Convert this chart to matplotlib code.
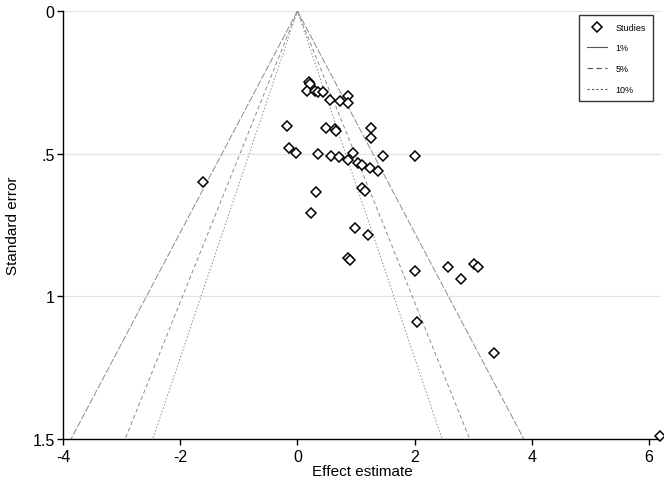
import numpy as np
import matplotlib
matplotlib.use("Agg")
import matplotlib.pyplot as plt
from matplotlib.lines import Line2D
from matplotlib import font_manager

plt.rcParams['font.family'] = ['Liberation Sans', 'DejaVu Sans']
_names = {f.name for f in font_manager.fontManager.ttflist}
label_family = ['Liberation Sans Narrow', 'Liberation Sans'] if 'Liberation Sans Narrow' in _names else ['Liberation Sans']

# Study data: effect estimate and standard error
effect = [0.20, 0.21, 0.16, 0.30, 0.355, 0.43, 0.555, 0.725, 0.87, 0.87,
          -0.18, 0.49, 0.64, 0.665, 1.25, 1.25, -0.15, -0.02, 0.345, 0.57,
          0.71, 0.94, 0.86, 1.46, 2.005, 1.04, 1.095, 1.24, 1.37, -1.61,
          0.32, 1.105, 1.15, 0.225, 0.98, 1.20, 0.87, 0.89, 2.005, 2.045,
          2.57, 2.785, 3.02, 3.09, 3.35, 6.19]
std_err = [0.250, 0.255, 0.279, 0.279, 0.284, 0.284, 0.312, 0.317, 0.297, 0.322,
           0.404, 0.410, 0.414, 0.421, 0.410, 0.445, 0.480, 0.497, 0.502, 0.507,
           0.512, 0.497, 0.521, 0.507, 0.507, 0.534, 0.541, 0.550, 0.560, 0.599,
           0.633, 0.620, 0.630, 0.707, 0.761, 0.784, 0.866, 0.873, 0.910, 1.091,
           0.896, 0.940, 0.886, 0.897, 1.199, 1.490]

# Significance contours (two-sided z values)
contour_labels = ['1%', '5%', '10%']
contour_z = [2.576, 1.96, 1.645]
contour_styles = ['-', (0, (5, 3)), (0, (2, 2))]
plot_styles = [(0, (7, 2)), (0, (4, 3)), (0, (1.5, 2))]

x_ticks = [-4, -2, 0, 2, 4, 6]
y_ticks = [0, 0.5, 1, 1.5]
y_ticklabels = ['0', '.5', '1', '1.5']

fig = plt.figure(figsize=(6.64, 4.85), dpi=100)
ax = fig.add_axes([0.095, 0.0928, 0.900, 0.8825])

for yv in [0, 0.5, 1]:
    ax.axhline(yv, color='#e3e3e3', lw=0.9, zorder=0)

se_line = np.array([0, 1.5])
for z, ls in zip(contour_z, plot_styles):
    for sign in (-1, 1):
        ax.plot(sign * z * se_line, se_line, color='#8c8c8c', lw=0.7, ls=ls, zorder=1)

ax.plot(effect, std_err, linestyle='none', marker='D', markersize=5,
        markerfacecolor='white', markeredgecolor='black', markeredgewidth=1.1,
        zorder=3, clip_on=False)

ax.set_xlim(-4, 6.2)
ax.set_ylim(1.5, 0)
ax.set_xticks(x_ticks)
ax.set_xticklabels([str(t) for t in x_ticks])
ax.set_yticks(y_ticks)
ax.set_yticklabels(y_ticklabels)
ax.tick_params(direction='out', length=4, width=1, labelsize=11.5, colors='black')
ax.tick_params(axis='y', pad=2)
for s in ['top', 'right']:
    ax.spines[s].set_visible(False)
for s in ['left', 'bottom']:
    ax.spines[s].set_linewidth(1)

ax.set_xlabel('Effect estimate', fontsize=11, family=label_family, labelpad=0)
ax.set_ylabel('Standard error', fontsize=11, family=label_family, labelpad=9)

handles = [Line2D([], [], ls='none', marker='D', markersize=5, markerfacecolor='white',
                  markeredgecolor='black', markeredgewidth=1.1)]
for lab, ls in zip(contour_labels, contour_styles):
    handles.append(Line2D([], [], color='#555555', lw=0.8, ls=ls))
leg = ax.legend(handles, ['Studies'] + contour_labels, loc='upper right',
                bbox_to_anchor=(0.995, 1.0), fontsize=6.5, frameon=True,
                fancybox=False, edgecolor='black', handlelength=2.2,
                labelspacing=1.3, borderpad=0.8, handletextpad=1.0)
leg.get_frame().set_linewidth(1)

fig.savefig('out.png', dpi=100)
